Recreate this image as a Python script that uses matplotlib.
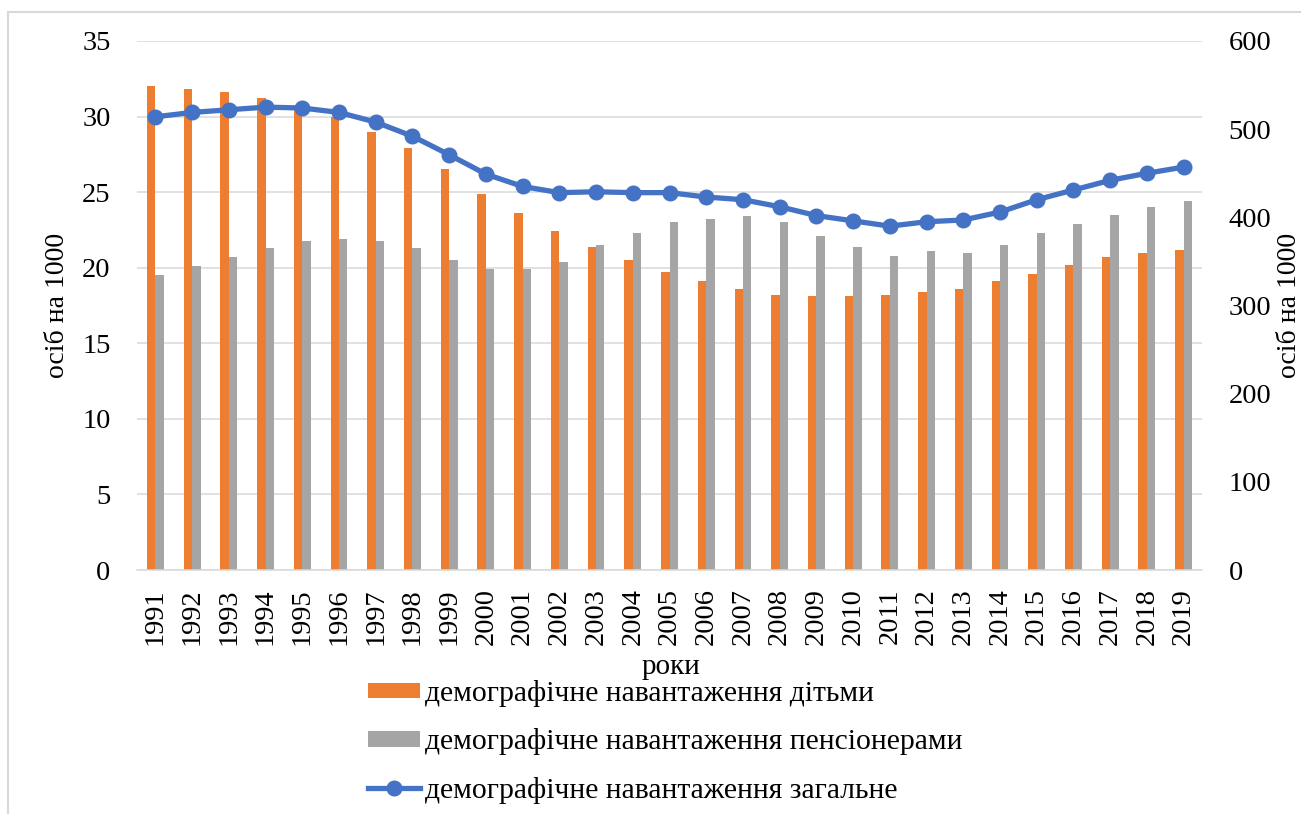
import matplotlib
matplotlib.use('Agg')
import matplotlib.pyplot as plt
from matplotlib.lines import Line2D
import numpy as np

# chart data
years = [str(y) for y in range(1991, 2020)]
children = [32.0, 31.8, 31.6, 31.2, 30.6, 30.0, 29.0, 27.9, 26.5, 24.9,
            23.6, 22.4, 21.4, 20.5, 19.7, 19.1, 18.6, 18.2, 18.1, 18.1,
            18.2, 18.4, 18.6, 19.1, 19.6, 20.2, 20.7, 21.0, 21.2]
pensioners = [19.5, 20.1, 20.7, 21.3, 21.8, 21.9, 21.8, 21.3, 20.5, 19.9,
              19.9, 20.4, 21.5, 22.3, 23.0, 23.2, 23.4, 23.0, 22.1, 21.4,
              20.8, 21.1, 21.0, 21.5, 22.3, 22.9, 23.5, 24.0, 24.4]
total = [514, 519, 522, 525, 524, 519, 508, 492, 471, 449,
         435, 428, 429, 428, 428, 423, 420, 412, 402, 396,
         390, 395, 397, 406, 420, 431, 442, 450, 457]

left_ticks = [0, 5, 10, 15, 20, 25, 30, 35]
right_ticks = [0, 100, 200, 300, 400, 500, 600]

lab_children = 'демографічне навантаження дітьми'
lab_pens = 'демографічне навантаження пенсіонерами'
lab_total = 'демографічне навантаження загальне'

plt.rcParams['font.family'] = ['Liberation Serif', 'DejaVu Serif']

W, H = 1301, 814
fig = plt.figure(figsize=(W / 100, H / 100), dpi=100)
ax = fig.add_axes([137 / W, 1 - 570 / H, 1065 / W, 529 / H])
ax2 = ax.twinx()

x = np.arange(len(years))
bw = 0.23
ax.bar(x - bw / 2, children, bw, color='#ED7D31', label=lab_children, zorder=2)
ax.bar(x + bw / 2, pensioners, bw, color='#A5A5A5', label=lab_pens, zorder=2)
ax2.plot(x, total, color='#4472C4', lw=3.8, marker='o', ms=10.5,
         label=lab_total, zorder=3)

ax.set_xlim(-0.5, len(years) - 0.5)
ax.set_ylim(0, 35)
ax2.set_ylim(0, 600)
ax.set_yticks(left_ticks)
ax2.set_yticks(right_ticks)
ax.set_xticks(x)
ax.set_xticklabels(years, rotation=90)

ax.grid(axis='y', color='#D9D9D9', lw=1.1, zorder=0)
ax.set_axisbelow(True)
for a in (ax, ax2):
    for s in a.spines.values():
        s.set_visible(False)
ax.spines['bottom'].set_visible(True)
ax.spines['bottom'].set_color('#D9D9D9')
ax.spines['bottom'].set_linewidth(1.1)

ax.tick_params(axis='y', length=0, pad=19, labelsize=20.5)
ax.tick_params(axis='x', length=0, pad=13, labelsize=20.5)
ax2.tick_params(axis='y', length=0, pad=19, labelsize=20.5)

ax.set_ylabel('осіб на 1000', fontsize=20, va='center')
ax.yaxis.set_label_coords(-0.0742, 0.5)
ax2.set_ylabel('осіб на 1000', fontsize=20, rotation=90, va='center')
ax2.yaxis.set_label_coords(1.0817, 0.5)
ax.set_xlabel('роки', fontsize=21, va='center')
ax.xaxis.set_label_coords(0.501, -0.184)

h1, l1 = ax.get_legend_handles_labels()
h2, l2 = ax2.get_legend_handles_labels()
fig.legend(h1 + h2, l1 + l2, loc='upper left',
           bbox_to_anchor=(368 / W, 1 - 680 / H), frameon=False,
           fontsize=21.3, handlelength=1.76, handleheight=0.45,
           handletextpad=0.17, borderpad=0, borderaxespad=0,
           labelspacing=0.72)

# outer frame (left and top edges visible)
fig.add_artist(Line2D([8 / W, 8 / W], [0, 1 - 12 / H], transform=fig.transFigure,
                      color='#D9D9D9', lw=1.5))
fig.add_artist(Line2D([8 / W, 1], [1 - 12 / H, 1 - 12 / H], transform=fig.transFigure,
                      color='#D9D9D9', lw=1.5))

fig.savefig('out.png', dpi=100)
